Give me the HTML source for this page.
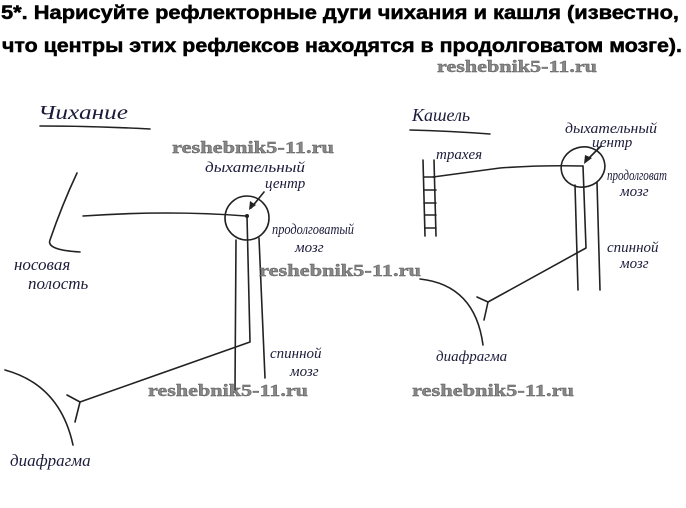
<!DOCTYPE html>
<html><head><meta charset="utf-8"><style>
html,body{margin:0;padding:0;background:#fff;}
svg{display:block;}
.h{font-family:"Liberation Sans","DejaVu Sans",sans-serif;font-weight:bold;font-size:19px;fill:#000;stroke:#000;stroke-width:0.5;}
.w{font-family:"Liberation Serif",serif;font-weight:bold;font-size:17px;fill:#888;stroke:#555;stroke-width:0.4;}
.t{font-family:"Liberation Serif",serif;font-style:italic;font-size:15px;fill:#1c1c3a;}
.l{fill:none;stroke:#222;stroke-width:1.6;stroke-linecap:round;stroke-linejoin:round;}
</style></head><body>
<svg width="686" height="508" viewBox="0 0 686 508" xmlns="http://www.w3.org/2000/svg">
<text class="h" x="1" y="19" textLength="678" lengthAdjust="spacingAndGlyphs">5*. Нарисуйте рефлекторные дуги чихания и кашля (известно,</text>
<text class="h" x="2" y="52" textLength="680" lengthAdjust="spacingAndGlyphs">что центры этих рефлексов находятся в продолговатом мозге).</text>

<!-- Left diagram -->
<text class="t" x="38" y="119" style="font-size:20px" textLength="90" lengthAdjust="spacingAndGlyphs">Чихание</text>
<path class="l" d="M40 126 Q95 126 150 129"/>
<path class="l" d="M77 173 Q62 205 50 240 Q46 250 80 252"/>
<path class="l" d="M83 216 Q170 210 246 216"/>
<circle cx="247" cy="218" r="22" class="l"/>
<circle cx="247" cy="216" r="2" fill="#222"/>
<path class="l" d="M264 192 L251 208"/>
<path d="M249 210 L250 201 L256 205 Z" fill="#222"/>
<path class="l" d="M236 240 L235 390"/>
<path class="l" d="M259 238 L265 378"/>
<path class="l" d="M247 216 L250 342 L80 402"/>
<path class="l" d="M80 402 L67 395 M80 402 L75 422"/>
<path class="l" d="M5 370 Q60 385 73 445"/>
<text class="t" x="205" y="172" textLength="100" lengthAdjust="spacingAndGlyphs">дыхательный</text>
<text class="t" x="265" y="188">центр</text>
<text class="t" x="272" y="234" textLength="82" lengthAdjust="spacingAndGlyphs">продолговатый</text>
<text class="t" x="295" y="252">мозг</text>
<text class="t" x="14" y="270" style="font-size:17px">носовая</text>
<text class="t" x="28" y="289" style="font-size:17px">полость</text>
<text class="t" x="270" y="358">спинной</text>
<text class="t" x="290" y="376">мозг</text>
<text class="t" x="10" y="466" style="font-size:17px">диафрагма</text>

<!-- Right diagram -->
<text class="t" x="412" y="121" style="font-size:18px">Кашель</text>
<path class="l" d="M410 130 Q450 131 490 134"/>
<path class="l" d="M423 160 L425 236 M434 160 L436 236"/>
<path class="l" d="M424 177 L435 177 M424 190 L436 190 M424 203 L436 203 M425 215 L436 215 M425 228 L436 228"/>
<text class="t" x="436" y="159">трахея</text>
<path class="l" d="M433 177 Q470 172 500 168 Q540 165 583 166"/>
<ellipse cx="583" cy="167" rx="22" ry="20" class="l" transform="rotate(-15 583 167)"/>
<path class="l" d="M601 146 L586 161"/>
<path d="M584 164 L585 155 L592 158 Z" fill="#222"/>
<path class="l" d="M575 185 L578 290"/>
<path class="l" d="M597 182 L600 290"/>
<path class="l" d="M583 166 L586 248 L488 302"/>
<path class="l" d="M488 302 L477 297 M488 302 L484 320"/>
<path class="l" d="M420 279 Q475 285 483 345"/>
<text class="t" x="565" y="133" textLength="92" lengthAdjust="spacingAndGlyphs">дыхательный</text>
<text class="t" x="592" y="147">центр</text>
<text class="t" x="607" y="180" textLength="60" lengthAdjust="spacingAndGlyphs">продолговат</text>
<text class="t" x="620" y="196">мозг</text>
<text class="t" x="607" y="252">спинной</text>
<text class="t" x="620" y="268">мозг</text>
<text class="t" x="436" y="361">диафрагма</text>

<!-- watermarks -->
<text class="w" x="437" y="72" textLength="160" lengthAdjust="spacingAndGlyphs">reshebnik5-11.ru</text>
<text class="w" x="172" y="153" textLength="162" lengthAdjust="spacingAndGlyphs">reshebnik5-11.ru</text>
<text class="w" x="259" y="276" textLength="162" lengthAdjust="spacingAndGlyphs">reshebnik5-11.ru</text>
<text class="w" x="148" y="396" textLength="160" lengthAdjust="spacingAndGlyphs">reshebnik5-11.ru</text>
<text class="w" x="412" y="396" textLength="162" lengthAdjust="spacingAndGlyphs">reshebnik5-11.ru</text>
</svg>
</body></html>
